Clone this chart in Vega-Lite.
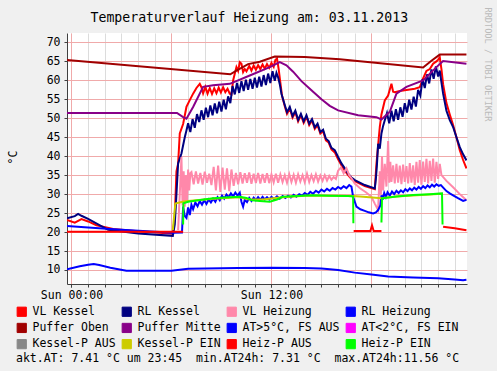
{
"$schema": "https://vega.github.io/schema/vega-lite/v6.json",
"width": 400, "height": 251,
"autosize": {"type": "none"},
"padding": {"left": 67, "top": 33, "right": 30, "bottom": 87},
"background": "#F0F0F0",
"config": {"font": "DejaVu Sans Mono", "view": {"stroke": null, "fill": "white"}},
"data": {"values": [
{"s":"VL Kessel","t":"2013-11-02T23:44","v":23.2},
{"s":"VL Kessel","t":"2013-11-03T00:12","v":22.5},
{"s":"VL Kessel","t":"2013-11-03T00:36","v":23.4},
{"s":"VL Kessel","t":"2013-11-03T01:00","v":22.8},
{"s":"VL Kessel","t":"2013-11-03T01:30","v":21.8},
{"s":"VL Kessel","t":"2013-11-03T02:30","v":20.8},
{"s":"VL Kessel","t":"2013-11-03T04:00","v":20.2},
{"s":"VL Kessel","t":"2013-11-03T06:05","v":19.6},
{"s":"VL Kessel","t":"2013-11-03T06:12","v":24},
{"s":"VL Kessel","t":"2013-11-03T06:18","v":36},
{"s":"VL Kessel","t":"2013-11-03T06:24","v":38},
{"s":"VL Kessel","t":"2013-11-03T06:30","v":46},
{"s":"VL Kessel","t":"2013-11-03T06:42","v":48.5},
{"s":"VL Kessel","t":"2013-11-03T06:54","v":53},
{"s":"VL Kessel","t":"2013-11-03T07:06","v":54.8},
{"s":"VL Kessel","t":"2013-11-03T07:18","v":56.5},
{"s":"VL Kessel","t":"2013-11-03T07:30","v":58},
{"s":"VL Kessel","t":"2013-11-03T07:42","v":59.1},
{"s":"VL Kessel","t":"2013-11-03T07:48","v":58.2},
{"s":"VL Kessel","t":"2013-11-03T07:54","v":56.6},
{"s":"VL Kessel","t":"2013-11-03T08:02","v":58.3},
{"s":"VL Kessel","t":"2013-11-03T08:10","v":56.5},
{"s":"VL Kessel","t":"2013-11-03T08:18","v":58.0},
{"s":"VL Kessel","t":"2013-11-03T08:26","v":56.4},
{"s":"VL Kessel","t":"2013-11-03T08:34","v":57.9},
{"s":"VL Kessel","t":"2013-11-03T08:42","v":56.6},
{"s":"VL Kessel","t":"2013-11-03T08:50","v":58.1},
{"s":"VL Kessel","t":"2013-11-03T08:58","v":56.8},
{"s":"VL Kessel","t":"2013-11-03T09:06","v":58.2},
{"s":"VL Kessel","t":"2013-11-03T09:14","v":56.9},
{"s":"VL Kessel","t":"2013-11-03T09:22","v":57.8},
{"s":"VL Kessel","t":"2013-11-03T09:30","v":56.5},
{"s":"VL Kessel","t":"2013-11-03T09:36","v":56.3},
{"s":"VL Kessel","t":"2013-11-03T09:42","v":60},
{"s":"VL Kessel","t":"2013-11-03T09:54","v":63.5},
{"s":"VL Kessel","t":"2013-11-03T10:00","v":62.5},
{"s":"VL Kessel","t":"2013-11-03T10:06","v":64.8},
{"s":"VL Kessel","t":"2013-11-03T10:12","v":64.4},
{"s":"VL Kessel","t":"2013-11-03T10:18","v":62.2},
{"s":"VL Kessel","t":"2013-11-03T10:24","v":63},
{"s":"VL Kessel","t":"2013-11-03T10:30","v":62.4},
{"s":"VL Kessel","t":"2013-11-03T10:40","v":63.8},
{"s":"VL Kessel","t":"2013-11-03T10:48","v":62.6},
{"s":"VL Kessel","t":"2013-11-03T10:56","v":63.9},
{"s":"VL Kessel","t":"2013-11-03T11:04","v":62.8},
{"s":"VL Kessel","t":"2013-11-03T11:12","v":64},
{"s":"VL Kessel","t":"2013-11-03T11:20","v":63.0},
{"s":"VL Kessel","t":"2013-11-03T11:28","v":64.2},
{"s":"VL Kessel","t":"2013-11-03T11:36","v":63.1},
{"s":"VL Kessel","t":"2013-11-03T11:44","v":64.3},
{"s":"VL Kessel","t":"2013-11-03T11:52","v":63.3},
{"s":"VL Kessel","t":"2013-11-03T12:00","v":64.6},
{"s":"VL Kessel","t":"2013-11-03T12:08","v":63.6},
{"s":"VL Kessel","t":"2013-11-03T12:14","v":65.4},
{"s":"VL Kessel","t":"2013-11-03T12:20","v":65.8},
{"s":"VL Kessel","t":"2013-11-03T12:26","v":63},
{"s":"VL Kessel","t":"2013-11-03T12:32","v":59.5},
{"s":"VL Kessel","t":"2013-11-03T12:38","v":56},
{"s":"VL Kessel","t":"2013-11-03T12:48","v":53.2},
{"s":"VL Kessel","t":"2013-11-03T12:56","v":51.2},
{"s":"VL Kessel","t":"2013-11-03T13:06","v":52.6},
{"s":"VL Kessel","t":"2013-11-03T13:16","v":50.2},
{"s":"VL Kessel","t":"2013-11-03T13:26","v":51.6},
{"s":"VL Kessel","t":"2013-11-03T13:36","v":49.2},
{"s":"VL Kessel","t":"2013-11-03T13:46","v":50.8},
{"s":"VL Kessel","t":"2013-11-03T13:56","v":48.8},
{"s":"VL Kessel","t":"2013-11-03T14:06","v":50.4},
{"s":"VL Kessel","t":"2013-11-03T14:16","v":48.2},
{"s":"VL Kessel","t":"2013-11-03T14:26","v":49.4},
{"s":"VL Kessel","t":"2013-11-03T14:36","v":47.2},
{"s":"VL Kessel","t":"2013-11-03T14:46","v":48.2},
{"s":"VL Kessel","t":"2013-11-03T14:56","v":46.0},
{"s":"VL Kessel","t":"2013-11-03T15:06","v":46.6},
{"s":"VL Kessel","t":"2013-11-03T15:16","v":44.2},
{"s":"VL Kessel","t":"2013-11-03T15:26","v":43.6},
{"s":"VL Kessel","t":"2013-11-03T15:36","v":41.8},
{"s":"VL Kessel","t":"2013-11-03T15:48","v":41.0},
{"s":"VL Kessel","t":"2013-11-03T16:00","v":39.2},
{"s":"VL Kessel","t":"2013-11-03T16:12","v":37.6},
{"s":"VL Kessel","t":"2013-11-03T16:24","v":36.2},
{"s":"VL Kessel","t":"2013-11-03T16:36","v":35.0},
{"s":"VL Kessel","t":"2013-11-03T16:48","v":34.0},
{"s":"VL Kessel","t":"2013-11-03T17:00","v":33.4},
{"s":"VL Kessel","t":"2013-11-03T17:36","v":32.1},
{"s":"VL Kessel","t":"2013-11-03T18:12","v":31.3},
{"s":"VL Kessel","t":"2013-11-03T18:18","v":38},
{"s":"VL Kessel","t":"2013-11-03T18:30","v":47.7},
{"s":"VL Kessel","t":"2013-11-03T18:36","v":51},
{"s":"VL Kessel","t":"2013-11-03T18:48","v":54.7},
{"s":"VL Kessel","t":"2013-11-03T19:00","v":56},
{"s":"VL Kessel","t":"2013-11-03T19:12","v":59.1},
{"s":"VL Kessel","t":"2013-11-03T19:18","v":57},
{"s":"VL Kessel","t":"2013-11-03T19:24","v":56.9},
{"s":"VL Kessel","t":"2013-11-03T19:42","v":57.2},
{"s":"VL Kessel","t":"2013-11-03T20:00","v":57.4},
{"s":"VL Kessel","t":"2013-11-03T20:18","v":57.6},
{"s":"VL Kessel","t":"2013-11-03T20:36","v":57.8},
{"s":"VL Kessel","t":"2013-11-03T20:54","v":58.2},
{"s":"VL Kessel","t":"2013-11-03T21:06","v":60.5},
{"s":"VL Kessel","t":"2013-11-03T21:18","v":62.5},
{"s":"VL Kessel","t":"2013-11-03T21:30","v":63},
{"s":"VL Kessel","t":"2013-11-03T21:42","v":64.4},
{"s":"VL Kessel","t":"2013-11-03T21:54","v":65.0},
{"s":"VL Kessel","t":"2013-11-03T22:00","v":65.5},
{"s":"VL Kessel","t":"2013-11-03T22:06","v":66.1},
{"s":"VL Kessel","t":"2013-11-03T22:12","v":63},
{"s":"VL Kessel","t":"2013-11-03T22:18","v":59},
{"s":"VL Kessel","t":"2013-11-03T22:30","v":54},
{"s":"VL Kessel","t":"2013-11-03T22:42","v":51},
{"s":"VL Kessel","t":"2013-11-03T22:54","v":48.2},
{"s":"VL Kessel","t":"2013-11-03T23:06","v":45},
{"s":"VL Kessel","t":"2013-11-03T23:18","v":41.6},
{"s":"VL Kessel","t":"2013-11-03T23:30","v":39},
{"s":"VL Kessel","t":"2013-11-03T23:42","v":36.8},
{"s":"RL Kessel","t":"2013-11-02T23:44","v":23.6},
{"s":"RL Kessel","t":"2013-11-03T00:12","v":24.2},
{"s":"RL Kessel","t":"2013-11-03T00:24","v":24.8},
{"s":"RL Kessel","t":"2013-11-03T00:36","v":24.3},
{"s":"RL Kessel","t":"2013-11-03T01:00","v":23.5},
{"s":"RL Kessel","t":"2013-11-03T02:12","v":20.6},
{"s":"RL Kessel","t":"2013-11-03T04:00","v":19.6},
{"s":"RL Kessel","t":"2013-11-03T06:05","v":19.0},
{"s":"RL Kessel","t":"2013-11-03T06:12","v":22},
{"s":"RL Kessel","t":"2013-11-03T06:18","v":30},
{"s":"RL Kessel","t":"2013-11-03T06:24","v":38.1},
{"s":"RL Kessel","t":"2013-11-03T06:36","v":40.7},
{"s":"RL Kessel","t":"2013-11-03T06:48","v":45},
{"s":"RL Kessel","t":"2013-11-03T06:54","v":46.8},
{"s":"RL Kessel","t":"2013-11-03T07:00","v":48.7},
{"s":"RL Kessel","t":"2013-11-03T07:08","v":46.4},
{"s":"RL Kessel","t":"2013-11-03T07:16","v":49.8},
{"s":"RL Kessel","t":"2013-11-03T07:24","v":47.5},
{"s":"RL Kessel","t":"2013-11-03T07:32","v":51.1},
{"s":"RL Kessel","t":"2013-11-03T07:40","v":49.0},
{"s":"RL Kessel","t":"2013-11-03T07:48","v":52.1},
{"s":"RL Kessel","t":"2013-11-03T07:56","v":49.6},
{"s":"RL Kessel","t":"2013-11-03T08:04","v":52.8},
{"s":"RL Kessel","t":"2013-11-03T08:12","v":50.3},
{"s":"RL Kessel","t":"2013-11-03T08:20","v":53.4},
{"s":"RL Kessel","t":"2013-11-03T08:28","v":50.8},
{"s":"RL Kessel","t":"2013-11-03T08:36","v":53.9},
{"s":"RL Kessel","t":"2013-11-03T08:44","v":51.3},
{"s":"RL Kessel","t":"2013-11-03T08:52","v":54.4},
{"s":"RL Kessel","t":"2013-11-03T09:00","v":51.8},
{"s":"RL Kessel","t":"2013-11-03T09:08","v":54.9},
{"s":"RL Kessel","t":"2013-11-03T09:16","v":52.4},
{"s":"RL Kessel","t":"2013-11-03T09:24","v":55.8},
{"s":"RL Kessel","t":"2013-11-03T09:32","v":54.0},
{"s":"RL Kessel","t":"2013-11-03T09:40","v":58.5},
{"s":"RL Kessel","t":"2013-11-03T09:48","v":56.3},
{"s":"RL Kessel","t":"2013-11-03T09:56","v":59.3},
{"s":"RL Kessel","t":"2013-11-03T10:04","v":56.7},
{"s":"RL Kessel","t":"2013-11-03T10:12","v":59.8},
{"s":"RL Kessel","t":"2013-11-03T10:20","v":57.2},
{"s":"RL Kessel","t":"2013-11-03T10:28","v":60.2},
{"s":"RL Kessel","t":"2013-11-03T10:36","v":57.5},
{"s":"RL Kessel","t":"2013-11-03T10:44","v":60.4},
{"s":"RL Kessel","t":"2013-11-03T10:52","v":57.8},
{"s":"RL Kessel","t":"2013-11-03T11:00","v":60.7},
{"s":"RL Kessel","t":"2013-11-03T11:08","v":58.1},
{"s":"RL Kessel","t":"2013-11-03T11:16","v":61.0},
{"s":"RL Kessel","t":"2013-11-03T11:24","v":58.4},
{"s":"RL Kessel","t":"2013-11-03T11:32","v":61.4},
{"s":"RL Kessel","t":"2013-11-03T11:40","v":58.8},
{"s":"RL Kessel","t":"2013-11-03T11:48","v":61.8},
{"s":"RL Kessel","t":"2013-11-03T11:56","v":59.3},
{"s":"RL Kessel","t":"2013-11-03T12:04","v":62.4},
{"s":"RL Kessel","t":"2013-11-03T12:12","v":59.9},
{"s":"RL Kessel","t":"2013-11-03T12:18","v":62.0},
{"s":"RL Kessel","t":"2013-11-03T12:24","v":60.8},
{"s":"RL Kessel","t":"2013-11-03T12:30","v":59},
{"s":"RL Kessel","t":"2013-11-03T12:36","v":56.5},
{"s":"RL Kessel","t":"2013-11-03T12:48","v":53.5},
{"s":"RL Kessel","t":"2013-11-03T12:56","v":51.6},
{"s":"RL Kessel","t":"2013-11-03T13:06","v":53.0},
{"s":"RL Kessel","t":"2013-11-03T13:16","v":50.6},
{"s":"RL Kessel","t":"2013-11-03T13:26","v":52.0},
{"s":"RL Kessel","t":"2013-11-03T13:36","v":49.6},
{"s":"RL Kessel","t":"2013-11-03T13:46","v":51.2},
{"s":"RL Kessel","t":"2013-11-03T13:56","v":49.2},
{"s":"RL Kessel","t":"2013-11-03T14:06","v":50.8},
{"s":"RL Kessel","t":"2013-11-03T14:16","v":48.6},
{"s":"RL Kessel","t":"2013-11-03T14:26","v":49.8},
{"s":"RL Kessel","t":"2013-11-03T14:36","v":47.6},
{"s":"RL Kessel","t":"2013-11-03T14:46","v":48.6},
{"s":"RL Kessel","t":"2013-11-03T14:56","v":46.4},
{"s":"RL Kessel","t":"2013-11-03T15:06","v":47.0},
{"s":"RL Kessel","t":"2013-11-03T15:16","v":44.6},
{"s":"RL Kessel","t":"2013-11-03T15:26","v":44.0},
{"s":"RL Kessel","t":"2013-11-03T15:36","v":42.2},
{"s":"RL Kessel","t":"2013-11-03T15:48","v":41.6},
{"s":"RL Kessel","t":"2013-11-03T16:00","v":39.8},
{"s":"RL Kessel","t":"2013-11-03T16:12","v":38.1},
{"s":"RL Kessel","t":"2013-11-03T16:24","v":36.8},
{"s":"RL Kessel","t":"2013-11-03T16:36","v":35.4},
{"s":"RL Kessel","t":"2013-11-03T16:48","v":34.4},
{"s":"RL Kessel","t":"2013-11-03T17:00","v":33.7},
{"s":"RL Kessel","t":"2013-11-03T17:36","v":32.4},
{"s":"RL Kessel","t":"2013-11-03T18:12","v":31.5},
{"s":"RL Kessel","t":"2013-11-03T18:16","v":34},
{"s":"RL Kessel","t":"2013-11-03T18:20","v":38},
{"s":"RL Kessel","t":"2013-11-03T18:24","v":43.3},
{"s":"RL Kessel","t":"2013-11-03T18:30","v":42},
{"s":"RL Kessel","t":"2013-11-03T18:36","v":46},
{"s":"RL Kessel","t":"2013-11-03T18:42","v":48},
{"s":"RL Kessel","t":"2013-11-03T18:48","v":49.5},
{"s":"RL Kessel","t":"2013-11-03T18:56","v":51.4},
{"s":"RL Kessel","t":"2013-11-03T19:04","v":48.7},
{"s":"RL Kessel","t":"2013-11-03T19:12","v":52.0},
{"s":"RL Kessel","t":"2013-11-03T19:20","v":49.2},
{"s":"RL Kessel","t":"2013-11-03T19:28","v":52.4},
{"s":"RL Kessel","t":"2013-11-03T19:36","v":49.6},
{"s":"RL Kessel","t":"2013-11-03T19:44","v":52.9},
{"s":"RL Kessel","t":"2013-11-03T19:52","v":50.4},
{"s":"RL Kessel","t":"2013-11-03T20:00","v":54.0},
{"s":"RL Kessel","t":"2013-11-03T20:08","v":51.5},
{"s":"RL Kessel","t":"2013-11-03T20:16","v":54.9},
{"s":"RL Kessel","t":"2013-11-03T20:24","v":52.3},
{"s":"RL Kessel","t":"2013-11-03T20:32","v":55.7},
{"s":"RL Kessel","t":"2013-11-03T20:40","v":53.1},
{"s":"RL Kessel","t":"2013-11-03T20:48","v":57.5},
{"s":"RL Kessel","t":"2013-11-03T20:56","v":56.0},
{"s":"RL Kessel","t":"2013-11-03T21:04","v":60.3},
{"s":"RL Kessel","t":"2013-11-03T21:12","v":58.0},
{"s":"RL Kessel","t":"2013-11-03T21:20","v":61.6},
{"s":"RL Kessel","t":"2013-11-03T21:28","v":59.2},
{"s":"RL Kessel","t":"2013-11-03T21:36","v":62.9},
{"s":"RL Kessel","t":"2013-11-03T21:44","v":60.4},
{"s":"RL Kessel","t":"2013-11-03T21:52","v":63.7},
{"s":"RL Kessel","t":"2013-11-03T22:00","v":61.0},
{"s":"RL Kessel","t":"2013-11-03T22:06","v":62.6},
{"s":"RL Kessel","t":"2013-11-03T22:12","v":59.5},
{"s":"RL Kessel","t":"2013-11-03T22:18","v":56.5},
{"s":"RL Kessel","t":"2013-11-03T22:30","v":52},
{"s":"RL Kessel","t":"2013-11-03T22:42","v":49.5},
{"s":"RL Kessel","t":"2013-11-03T22:54","v":47.7},
{"s":"RL Kessel","t":"2013-11-03T23:06","v":45},
{"s":"RL Kessel","t":"2013-11-03T23:18","v":42.4},
{"s":"RL Kessel","t":"2013-11-03T23:30","v":40.5},
{"s":"RL Kessel","t":"2013-11-03T23:42","v":38.9},
{"s":"VL Heizung","t":"2013-11-03T06:24","v":20.5},
{"s":"VL Heizung","t":"2013-11-03T06:30","v":30},
{"s":"VL Heizung","t":"2013-11-03T06:36","v":39.8},
{"s":"VL Heizung","t":"2013-11-03T06:40","v":27},
{"s":"VL Heizung","t":"2013-11-03T06:44","v":36},
{"s":"VL Heizung","t":"2013-11-03T06:48","v":26.7},
{"s":"VL Heizung","t":"2013-11-03T06:52","v":35},
{"s":"VL Heizung","t":"2013-11-03T06:56","v":28},
{"s":"VL Heizung","t":"2013-11-03T07:00","v":36.5},
{"s":"VL Heizung","t":"2013-11-03T07:04","v":31},
{"s":"VL Heizung","t":"2013-11-03T07:08","v":35.5},
{"s":"VL Heizung","t":"2013-11-03T07:12","v":35.8},
{"s":"VL Heizung","t":"2013-11-03T07:20","v":32.6},
{"s":"VL Heizung","t":"2013-11-03T07:28","v":36.0},
{"s":"VL Heizung","t":"2013-11-03T07:36","v":32.8},
{"s":"VL Heizung","t":"2013-11-03T07:44","v":35.6},
{"s":"VL Heizung","t":"2013-11-03T07:52","v":32.5},
{"s":"VL Heizung","t":"2013-11-03T08:00","v":35.9},
{"s":"VL Heizung","t":"2013-11-03T08:08","v":33.0},
{"s":"VL Heizung","t":"2013-11-03T08:16","v":35.4},
{"s":"VL Heizung","t":"2013-11-03T08:24","v":32.4},
{"s":"VL Heizung","t":"2013-11-03T08:32","v":37.2},
{"s":"VL Heizung","t":"2013-11-03T08:40","v":31.0},
{"s":"VL Heizung","t":"2013-11-03T08:48","v":37.5},
{"s":"VL Heizung","t":"2013-11-03T08:56","v":30.6},
{"s":"VL Heizung","t":"2013-11-03T09:04","v":37.0},
{"s":"VL Heizung","t":"2013-11-03T09:12","v":31.2},
{"s":"VL Heizung","t":"2013-11-03T09:20","v":36.8},
{"s":"VL Heizung","t":"2013-11-03T09:28","v":30.8},
{"s":"VL Heizung","t":"2013-11-03T09:36","v":36.5},
{"s":"VL Heizung","t":"2013-11-03T09:44","v":32.2},
{"s":"VL Heizung","t":"2013-11-03T09:52","v":35.6},
{"s":"VL Heizung","t":"2013-11-03T10:00","v":32.6},
{"s":"VL Heizung","t":"2013-11-03T10:08","v":35.8},
{"s":"VL Heizung","t":"2013-11-03T10:16","v":32.8},
{"s":"VL Heizung","t":"2013-11-03T10:24","v":35.5},
{"s":"VL Heizung","t":"2013-11-03T10:32","v":33.0},
{"s":"VL Heizung","t":"2013-11-03T10:40","v":35.7},
{"s":"VL Heizung","t":"2013-11-03T10:48","v":32.7},
{"s":"VL Heizung","t":"2013-11-03T10:56","v":35.4},
{"s":"VL Heizung","t":"2013-11-03T11:04","v":32.9},
{"s":"VL Heizung","t":"2013-11-03T11:12","v":35.6},
{"s":"VL Heizung","t":"2013-11-03T11:20","v":32.8},
{"s":"VL Heizung","t":"2013-11-03T11:28","v":35.3},
{"s":"VL Heizung","t":"2013-11-03T11:36","v":33.0},
{"s":"VL Heizung","t":"2013-11-03T11:44","v":35.5},
{"s":"VL Heizung","t":"2013-11-03T11:52","v":32.9},
{"s":"VL Heizung","t":"2013-11-03T12:00","v":35.2},
{"s":"VL Heizung","t":"2013-11-03T12:08","v":33.1},
{"s":"VL Heizung","t":"2013-11-03T12:16","v":35.4},
{"s":"VL Heizung","t":"2013-11-03T12:24","v":33.0},
{"s":"VL Heizung","t":"2013-11-03T12:32","v":35.2},
{"s":"VL Heizung","t":"2013-11-03T12:40","v":33.2},
{"s":"VL Heizung","t":"2013-11-03T12:48","v":35.0},
{"s":"VL Heizung","t":"2013-11-03T12:56","v":33.0},
{"s":"VL Heizung","t":"2013-11-03T13:04","v":35.3},
{"s":"VL Heizung","t":"2013-11-03T13:12","v":33.2},
{"s":"VL Heizung","t":"2013-11-03T13:20","v":35.1},
{"s":"VL Heizung","t":"2013-11-03T13:28","v":33.0},
{"s":"VL Heizung","t":"2013-11-03T13:36","v":35.2},
{"s":"VL Heizung","t":"2013-11-03T13:44","v":33.3},
{"s":"VL Heizung","t":"2013-11-03T13:52","v":35.0},
{"s":"VL Heizung","t":"2013-11-03T14:00","v":33.1},
{"s":"VL Heizung","t":"2013-11-03T14:08","v":35.4},
{"s":"VL Heizung","t":"2013-11-03T14:16","v":33.2},
{"s":"VL Heizung","t":"2013-11-03T14:24","v":35.0},
{"s":"VL Heizung","t":"2013-11-03T14:32","v":33.4},
{"s":"VL Heizung","t":"2013-11-03T14:40","v":35.2},
{"s":"VL Heizung","t":"2013-11-03T14:48","v":33.3},
{"s":"VL Heizung","t":"2013-11-03T14:56","v":34.9},
{"s":"VL Heizung","t":"2013-11-03T15:04","v":33.5},
{"s":"VL Heizung","t":"2013-11-03T15:12","v":35.0},
{"s":"VL Heizung","t":"2013-11-03T15:20","v":33.6},
{"s":"VL Heizung","t":"2013-11-03T15:28","v":34.8},
{"s":"VL Heizung","t":"2013-11-03T15:36","v":33.8},
{"s":"VL Heizung","t":"2013-11-03T15:44","v":34.5},
{"s":"VL Heizung","t":"2013-11-03T15:52","v":34.0},
{"s":"VL Heizung","t":"2013-11-03T16:00","v":36.2},
{"s":"VL Heizung","t":"2013-11-03T16:10","v":37.0},
{"s":"VL Heizung","t":"2013-11-03T16:20","v":35.5},
{"s":"VL Heizung","t":"2013-11-03T16:30","v":36.8},
{"s":"VL Heizung","t":"2013-11-03T16:40","v":35.0},
{"s":"VL Heizung","t":"2013-11-03T16:50","v":34.0},
{"s":"VL Heizung","t":"2013-11-03T17:00","v":32.8},
{"s":"VL Heizung","t":"2013-11-03T17:20","v":31.5},
{"s":"VL Heizung","t":"2013-11-03T17:40","v":30.5},
{"s":"VL Heizung","t":"2013-11-03T18:00","v":29.3},
{"s":"VL Heizung","t":"2013-11-03T18:12","v":27.5},
{"s":"VL Heizung","t":"2013-11-03T18:24","v":25.8},
{"s":"VL Heizung","t":"2013-11-03T18:30","v":36},
{"s":"VL Heizung","t":"2013-11-03T18:34","v":30},
{"s":"VL Heizung","t":"2013-11-03T18:38","v":40},
{"s":"VL Heizung","t":"2013-11-03T18:42","v":31},
{"s":"VL Heizung","t":"2013-11-03T18:48","v":38},
{"s":"VL Heizung","t":"2013-11-03T18:54","v":32},
{"s":"VL Heizung","t":"2013-11-03T19:00","v":44},
{"s":"VL Heizung","t":"2013-11-03T19:04","v":33},
{"s":"VL Heizung","t":"2013-11-03T19:08","v":38.5},
{"s":"VL Heizung","t":"2013-11-03T19:12","v":33.2},
{"s":"VL Heizung","t":"2013-11-03T19:18","v":37.6},
{"s":"VL Heizung","t":"2013-11-03T19:24","v":32.8},
{"s":"VL Heizung","t":"2013-11-03T19:30","v":38.0},
{"s":"VL Heizung","t":"2013-11-03T19:36","v":33.0},
{"s":"VL Heizung","t":"2013-11-03T19:42","v":37.5},
{"s":"VL Heizung","t":"2013-11-03T19:48","v":32.6},
{"s":"VL Heizung","t":"2013-11-03T19:54","v":37.8},
{"s":"VL Heizung","t":"2013-11-03T20:00","v":33.2},
{"s":"VL Heizung","t":"2013-11-03T20:06","v":37.4},
{"s":"VL Heizung","t":"2013-11-03T20:12","v":32.8},
{"s":"VL Heizung","t":"2013-11-03T20:18","v":38.2},
{"s":"VL Heizung","t":"2013-11-03T20:24","v":33.0},
{"s":"VL Heizung","t":"2013-11-03T20:30","v":37.6},
{"s":"VL Heizung","t":"2013-11-03T20:36","v":32.4},
{"s":"VL Heizung","t":"2013-11-03T20:42","v":38.5},
{"s":"VL Heizung","t":"2013-11-03T20:48","v":33.0},
{"s":"VL Heizung","t":"2013-11-03T20:54","v":39.0},
{"s":"VL Heizung","t":"2013-11-03T21:00","v":32.5},
{"s":"VL Heizung","t":"2013-11-03T21:06","v":38.6},
{"s":"VL Heizung","t":"2013-11-03T21:12","v":33.2},
{"s":"VL Heizung","t":"2013-11-03T21:18","v":39.3},
{"s":"VL Heizung","t":"2013-11-03T21:24","v":32.8},
{"s":"VL Heizung","t":"2013-11-03T21:30","v":38.8},
{"s":"VL Heizung","t":"2013-11-03T21:36","v":33.5},
{"s":"VL Heizung","t":"2013-11-03T21:42","v":39.4},
{"s":"VL Heizung","t":"2013-11-03T21:48","v":33.0},
{"s":"VL Heizung","t":"2013-11-03T21:54","v":38.5},
{"s":"VL Heizung","t":"2013-11-03T22:00","v":34.0},
{"s":"VL Heizung","t":"2013-11-03T22:06","v":38.0},
{"s":"VL Heizung","t":"2013-11-03T22:12","v":35.0},
{"s":"VL Heizung","t":"2013-11-03T22:30","v":33.5},
{"s":"VL Heizung","t":"2013-11-03T22:54","v":31.8},
{"s":"VL Heizung","t":"2013-11-03T23:18","v":30.0},
{"s":"VL Heizung","t":"2013-11-03T23:42","v":28.4},
{"s":"RL Heizung","t":"2013-11-02T23:44","v":21.6},
{"s":"RL Heizung","t":"2013-11-03T01:00","v":21.2},
{"s":"RL Heizung","t":"2013-11-03T03:00","v":20.6},
{"s":"RL Heizung","t":"2013-11-03T06:05","v":19.8},
{"s":"RL Heizung","t":"2013-11-03T06:38","v":19.9},
{"s":"RL Heizung","t":"2013-11-03T06:42","v":26.7},
{"s":"RL Heizung","t":"2013-11-03T06:48","v":24.2},
{"s":"RL Heizung","t":"2013-11-03T06:54","v":23.7},
{"s":"RL Heizung","t":"2013-11-03T07:00","v":26.5},
{"s":"RL Heizung","t":"2013-11-03T07:06","v":24.5},
{"s":"RL Heizung","t":"2013-11-03T07:12","v":27.2},
{"s":"RL Heizung","t":"2013-11-03T07:18","v":26.0},
{"s":"RL Heizung","t":"2013-11-03T07:26","v":27.8},
{"s":"RL Heizung","t":"2013-11-03T07:34","v":26.8},
{"s":"RL Heizung","t":"2013-11-03T07:42","v":28.2},
{"s":"RL Heizung","t":"2013-11-03T07:50","v":27.2},
{"s":"RL Heizung","t":"2013-11-03T07:58","v":28.4},
{"s":"RL Heizung","t":"2013-11-03T08:06","v":27.4},
{"s":"RL Heizung","t":"2013-11-03T08:14","v":28.6},
{"s":"RL Heizung","t":"2013-11-03T08:22","v":27.8},
{"s":"RL Heizung","t":"2013-11-03T08:30","v":28.8},
{"s":"RL Heizung","t":"2013-11-03T08:38","v":28.0},
{"s":"RL Heizung","t":"2013-11-03T08:46","v":29.2},
{"s":"RL Heizung","t":"2013-11-03T08:54","v":28.4},
{"s":"RL Heizung","t":"2013-11-03T09:02","v":29.6},
{"s":"RL Heizung","t":"2013-11-03T09:10","v":28.8},
{"s":"RL Heizung","t":"2013-11-03T09:18","v":29.9},
{"s":"RL Heizung","t":"2013-11-03T09:26","v":29.2},
{"s":"RL Heizung","t":"2013-11-03T09:34","v":30.2},
{"s":"RL Heizung","t":"2013-11-03T09:42","v":29.4},
{"s":"RL Heizung","t":"2013-11-03T09:50","v":30.4},
{"s":"RL Heizung","t":"2013-11-03T09:58","v":29.6},
{"s":"RL Heizung","t":"2013-11-03T10:06","v":30.4},
{"s":"RL Heizung","t":"2013-11-03T10:12","v":28.0},
{"s":"RL Heizung","t":"2013-11-03T10:18","v":26.7},
{"s":"RL Heizung","t":"2013-11-03T10:24","v":28.5},
{"s":"RL Heizung","t":"2013-11-03T10:32","v":27.9},
{"s":"RL Heizung","t":"2013-11-03T10:40","v":29.0},
{"s":"RL Heizung","t":"2013-11-03T10:48","v":28.2},
{"s":"RL Heizung","t":"2013-11-03T10:56","v":29.1},
{"s":"RL Heizung","t":"2013-11-03T11:04","v":28.4},
{"s":"RL Heizung","t":"2013-11-03T11:12","v":29.2},
{"s":"RL Heizung","t":"2013-11-03T11:20","v":28.5},
{"s":"RL Heizung","t":"2013-11-03T11:28","v":29.3},
{"s":"RL Heizung","t":"2013-11-03T11:36","v":28.6},
{"s":"RL Heizung","t":"2013-11-03T11:44","v":29.2},
{"s":"RL Heizung","t":"2013-11-03T11:52","v":28.6},
{"s":"RL Heizung","t":"2013-11-03T12:00","v":29.3},
{"s":"RL Heizung","t":"2013-11-03T12:10","v":28.7},
{"s":"RL Heizung","t":"2013-11-03T12:20","v":29.4},
{"s":"RL Heizung","t":"2013-11-03T12:30","v":28.8},
{"s":"RL Heizung","t":"2013-11-03T12:40","v":29.5},
{"s":"RL Heizung","t":"2013-11-03T12:50","v":29.0},
{"s":"RL Heizung","t":"2013-11-03T13:00","v":29.6},
{"s":"RL Heizung","t":"2013-11-03T13:10","v":29.1},
{"s":"RL Heizung","t":"2013-11-03T13:20","v":29.8},
{"s":"RL Heizung","t":"2013-11-03T13:30","v":29.3},
{"s":"RL Heizung","t":"2013-11-03T13:40","v":30.0},
{"s":"RL Heizung","t":"2013-11-03T13:50","v":29.6},
{"s":"RL Heizung","t":"2013-11-03T14:00","v":30.3},
{"s":"RL Heizung","t":"2013-11-03T14:10","v":29.8},
{"s":"RL Heizung","t":"2013-11-03T14:20","v":30.6},
{"s":"RL Heizung","t":"2013-11-03T14:30","v":30.1},
{"s":"RL Heizung","t":"2013-11-03T14:40","v":30.9},
{"s":"RL Heizung","t":"2013-11-03T14:50","v":30.4},
{"s":"RL Heizung","t":"2013-11-03T15:00","v":31.2},
{"s":"RL Heizung","t":"2013-11-03T15:10","v":30.7},
{"s":"RL Heizung","t":"2013-11-03T15:20","v":31.4},
{"s":"RL Heizung","t":"2013-11-03T15:30","v":30.9},
{"s":"RL Heizung","t":"2013-11-03T15:40","v":31.6},
{"s":"RL Heizung","t":"2013-11-03T15:50","v":31.2},
{"s":"RL Heizung","t":"2013-11-03T16:00","v":31.9},
{"s":"RL Heizung","t":"2013-11-03T16:10","v":31.4},
{"s":"RL Heizung","t":"2013-11-03T16:20","v":32.1},
{"s":"RL Heizung","t":"2013-11-03T16:30","v":31.6},
{"s":"RL Heizung","t":"2013-11-03T16:40","v":32.4},
{"s":"RL Heizung","t":"2013-11-03T16:48","v":32.0},
{"s":"RL Heizung","t":"2013-11-03T16:54","v":29.3},
{"s":"RL Heizung","t":"2013-11-03T17:06","v":26.7},
{"s":"RL Heizung","t":"2013-11-03T17:20","v":26.0},
{"s":"RL Heizung","t":"2013-11-03T17:36","v":25.6},
{"s":"RL Heizung","t":"2013-11-03T17:50","v":25.2},
{"s":"RL Heizung","t":"2013-11-03T18:06","v":24.9},
{"s":"RL Heizung","t":"2013-11-03T18:16","v":25.2},
{"s":"RL Heizung","t":"2013-11-03T18:24","v":25.8},
{"s":"RL Heizung","t":"2013-11-03T18:32","v":27},
{"s":"RL Heizung","t":"2013-11-03T18:36","v":29.7},
{"s":"RL Heizung","t":"2013-11-03T18:40","v":28.5},
{"s":"RL Heizung","t":"2013-11-03T18:46","v":30.3},
{"s":"RL Heizung","t":"2013-11-03T18:52","v":29.2},
{"s":"RL Heizung","t":"2013-11-03T18:58","v":30.5},
{"s":"RL Heizung","t":"2013-11-03T19:06","v":29.6},
{"s":"RL Heizung","t":"2013-11-03T19:14","v":30.7},
{"s":"RL Heizung","t":"2013-11-03T19:22","v":30.0},
{"s":"RL Heizung","t":"2013-11-03T19:30","v":30.9},
{"s":"RL Heizung","t":"2013-11-03T19:38","v":30.3},
{"s":"RL Heizung","t":"2013-11-03T19:46","v":31.0},
{"s":"RL Heizung","t":"2013-11-03T19:54","v":30.5},
{"s":"RL Heizung","t":"2013-11-03T20:02","v":31.3},
{"s":"RL Heizung","t":"2013-11-03T20:10","v":30.8},
{"s":"RL Heizung","t":"2013-11-03T20:18","v":31.5},
{"s":"RL Heizung","t":"2013-11-03T20:26","v":31.0},
{"s":"RL Heizung","t":"2013-11-03T20:34","v":31.7},
{"s":"RL Heizung","t":"2013-11-03T20:42","v":31.2},
{"s":"RL Heizung","t":"2013-11-03T20:50","v":31.9},
{"s":"RL Heizung","t":"2013-11-03T20:58","v":31.4},
{"s":"RL Heizung","t":"2013-11-03T21:06","v":32.1},
{"s":"RL Heizung","t":"2013-11-03T21:14","v":31.6},
{"s":"RL Heizung","t":"2013-11-03T21:22","v":32.3},
{"s":"RL Heizung","t":"2013-11-03T21:30","v":31.8},
{"s":"RL Heizung","t":"2013-11-03T21:38","v":32.5},
{"s":"RL Heizung","t":"2013-11-03T21:46","v":32.0},
{"s":"RL Heizung","t":"2013-11-03T21:54","v":32.6},
{"s":"RL Heizung","t":"2013-11-03T22:02","v":32.2},
{"s":"RL Heizung","t":"2013-11-03T22:10","v":32.4},
{"s":"RL Heizung","t":"2013-11-03T22:20","v":31.6},
{"s":"RL Heizung","t":"2013-11-03T22:30","v":30.8},
{"s":"RL Heizung","t":"2013-11-03T22:42","v":30.2},
{"s":"RL Heizung","t":"2013-11-03T22:54","v":29.7},
{"s":"RL Heizung","t":"2013-11-03T23:10","v":29.0},
{"s":"RL Heizung","t":"2013-11-03T23:30","v":28.2},
{"s":"RL Heizung","t":"2013-11-03T23:42","v":28.5},
{"s":"Puffer Oben","t":"2013-11-02T23:44","v":65.4},
{"s":"Puffer Oben","t":"2013-11-03T09:32","v":61.6},
{"s":"Puffer Oben","t":"2013-11-03T09:54","v":62.6},
{"s":"Puffer Oben","t":"2013-11-03T10:36","v":64.3},
{"s":"Puffer Oben","t":"2013-11-03T11:18","v":64.9},
{"s":"Puffer Oben","t":"2013-11-03T12:12","v":66.3},
{"s":"Puffer Oben","t":"2013-11-03T14:00","v":66.2},
{"s":"Puffer Oben","t":"2013-11-03T16:06","v":65.6},
{"s":"Puffer Oben","t":"2013-11-03T21:06","v":63.4},
{"s":"Puffer Oben","t":"2013-11-03T21:36","v":65.2},
{"s":"Puffer Oben","t":"2013-11-03T22:06","v":66.8},
{"s":"Puffer Oben","t":"2013-11-03T23:42","v":66.8},
{"s":"Puffer Mitte","t":"2013-11-02T23:44","v":51.4},
{"s":"Puffer Mitte","t":"2013-11-03T06:20","v":51.4},
{"s":"Puffer Mitte","t":"2013-11-03T06:42","v":50.3},
{"s":"Puffer Mitte","t":"2013-11-03T06:54","v":49.9},
{"s":"Puffer Mitte","t":"2013-11-03T07:18","v":53},
{"s":"Puffer Mitte","t":"2013-11-03T07:54","v":58.3},
{"s":"Puffer Mitte","t":"2013-11-03T08:30","v":58.7},
{"s":"Puffer Mitte","t":"2013-11-03T09:30","v":59.1},
{"s":"Puffer Mitte","t":"2013-11-03T10:42","v":61.3},
{"s":"Puffer Mitte","t":"2013-11-03T11:54","v":63.5},
{"s":"Puffer Mitte","t":"2013-11-03T12:30","v":64.8},
{"s":"Puffer Mitte","t":"2013-11-03T12:54","v":64.0},
{"s":"Puffer Mitte","t":"2013-11-03T13:18","v":62.3},
{"s":"Puffer Mitte","t":"2013-11-03T13:48","v":59.8},
{"s":"Puffer Mitte","t":"2013-11-03T14:24","v":57.4},
{"s":"Puffer Mitte","t":"2013-11-03T15:00","v":55.0},
{"s":"Puffer Mitte","t":"2013-11-03T15:30","v":53.3},
{"s":"Puffer Mitte","t":"2013-11-03T16:00","v":52.1},
{"s":"Puffer Mitte","t":"2013-11-03T17:12","v":50.8},
{"s":"Puffer Mitte","t":"2013-11-03T18:18","v":50.3},
{"s":"Puffer Mitte","t":"2013-11-03T18:36","v":49.7},
{"s":"Puffer Mitte","t":"2013-11-03T19:06","v":51.7},
{"s":"Puffer Mitte","t":"2013-11-03T19:30","v":56.5},
{"s":"Puffer Mitte","t":"2013-11-03T20:06","v":58.3},
{"s":"Puffer Mitte","t":"2013-11-03T21:06","v":60},
{"s":"Puffer Mitte","t":"2013-11-03T21:54","v":63.5},
{"s":"Puffer Mitte","t":"2013-11-03T22:18","v":65.1},
{"s":"Puffer Mitte","t":"2013-11-03T23:42","v":64.4},
{"s":"Kessel-P EIN","t":"2013-11-03T06:05","v":20.5},
{"s":"Kessel-P EIN","t":"2013-11-03T06:14","v":27.5},
{"s":"Kessel-P EIN","t":"2013-11-03T06:40","v":28.0},
{"s":"Kessel-P EIN","t":"2013-11-03T07:00","v":28.2},
{"s":"Kessel-P EIN","t":"2013-11-03T08:30","v":28.8},
{"s":"Kessel-P EIN","t":"2013-11-03T10:06","v":29.2},
{"s":"Kessel-P EIN","t":"2013-11-03T10:40","v":28.6},
{"s":"Kessel-P EIN","t":"2013-11-03T11:30","v":28.6},
{"s":"Kessel-P EIN","t":"2013-11-03T12:30","v":29.1},
{"s":"Kessel-P EIN","t":"2013-11-03T14:00","v":29.6},
{"s":"Kessel-P EIN","t":"2013-11-03T15:30","v":29.6},
{"s":"Kessel-P EIN","t":"2013-11-03T16:54","v":29.5},
{"s":"Kessel-P EIN","t":"2013-11-03T17:30","v":29.3},
{"s":"Kessel-P EIN","t":"2013-11-03T18:36","v":28.9},
{"s":"Kessel-P EIN","t":"2013-11-03T19:30","v":29.4},
{"s":"Kessel-P EIN","t":"2013-11-03T21:00","v":29.8},
{"s":"Kessel-P EIN","t":"2013-11-03T22:14","v":30.1},
{"s":"AT>5°C, FS AUS","t":"2013-11-02T23:44","v":10.2},
{"s":"AT>5°C, FS AUS","t":"2013-11-03T00:30","v":11.0},
{"s":"AT>5°C, FS AUS","t":"2013-11-03T01:00","v":11.4},
{"s":"AT>5°C, FS AUS","t":"2013-11-03T01:20","v":11.56},
{"s":"AT>5°C, FS AUS","t":"2013-11-03T01:40","v":11.3},
{"s":"AT>5°C, FS AUS","t":"2013-11-03T02:20","v":10.6},
{"s":"AT>5°C, FS AUS","t":"2013-11-03T03:18","v":9.8},
{"s":"AT>5°C, FS AUS","t":"2013-11-03T06:00","v":9.8},
{"s":"AT>5°C, FS AUS","t":"2013-11-03T07:00","v":10.3},
{"s":"AT>5°C, FS AUS","t":"2013-11-03T08:00","v":10.4},
{"s":"AT>5°C, FS AUS","t":"2013-11-03T10:00","v":10.5},
{"s":"AT>5°C, FS AUS","t":"2013-11-03T12:00","v":10.6},
{"s":"AT>5°C, FS AUS","t":"2013-11-03T14:00","v":10.5},
{"s":"AT>5°C, FS AUS","t":"2013-11-03T15:00","v":10.4},
{"s":"AT>5°C, FS AUS","t":"2013-11-03T16:00","v":10.0},
{"s":"AT>5°C, FS AUS","t":"2013-11-03T17:00","v":9.3},
{"s":"AT>5°C, FS AUS","t":"2013-11-03T18:00","v":8.8},
{"s":"AT>5°C, FS AUS","t":"2013-11-03T19:00","v":8.3},
{"s":"AT>5°C, FS AUS","t":"2013-11-03T20:30","v":8.0},
{"s":"AT>5°C, FS AUS","t":"2013-11-03T22:00","v":7.8},
{"s":"AT>5°C, FS AUS","t":"2013-11-03T23:00","v":7.5},
{"s":"AT>5°C, FS AUS","t":"2013-11-03T23:30","v":7.31},
{"s":"AT>5°C, FS AUS","t":"2013-11-03T23:42","v":7.41},
{"s":"Heiz-P AUS","t":"2013-11-02T23:44","v":20.1},
{"s":"Heiz-P AUS","t":"2013-11-03T06:42","v":20.1},
{"s":"Heiz-P AUS","t":"2013-11-03T06:44","v":null},
{"s":"Heiz-P AUS","t":"2013-11-03T16:56","v":20.3},
{"s":"Heiz-P AUS","t":"2013-11-03T17:56","v":20.3},
{"s":"Heiz-P AUS","t":"2013-11-03T18:02","v":21.8},
{"s":"Heiz-P AUS","t":"2013-11-03T18:08","v":20.3},
{"s":"Heiz-P AUS","t":"2013-11-03T18:36","v":20.3},
{"s":"Heiz-P AUS","t":"2013-11-03T18:38","v":null},
{"s":"Heiz-P AUS","t":"2013-11-03T22:18","v":21.4},
{"s":"Heiz-P AUS","t":"2013-11-03T23:00","v":21.0},
{"s":"Heiz-P AUS","t":"2013-11-03T23:42","v":20.5},
{"s":"Heiz-P EIN","t":"2013-11-03T06:42","v":22.0},
{"s":"Heiz-P EIN","t":"2013-11-03T06:43","v":27.6},
{"s":"Heiz-P EIN","t":"2013-11-03T07:00","v":28.0},
{"s":"Heiz-P EIN","t":"2013-11-03T07:30","v":28.3},
{"s":"Heiz-P EIN","t":"2013-11-03T08:30","v":28.9},
{"s":"Heiz-P EIN","t":"2013-11-03T09:30","v":29.2},
{"s":"Heiz-P EIN","t":"2013-11-03T10:06","v":29.3},
{"s":"Heiz-P EIN","t":"2013-11-03T10:30","v":29.0},
{"s":"Heiz-P EIN","t":"2013-11-03T10:50","v":28.4},
{"s":"Heiz-P EIN","t":"2013-11-03T11:18","v":28.2},
{"s":"Heiz-P EIN","t":"2013-11-03T11:54","v":28.0},
{"s":"Heiz-P EIN","t":"2013-11-03T12:20","v":28.6},
{"s":"Heiz-P EIN","t":"2013-11-03T12:40","v":29.3},
{"s":"Heiz-P EIN","t":"2013-11-03T13:30","v":29.5},
{"s":"Heiz-P EIN","t":"2013-11-03T14:30","v":29.7},
{"s":"Heiz-P EIN","t":"2013-11-03T15:30","v":29.6},
{"s":"Heiz-P EIN","t":"2013-11-03T16:36","v":29.5},
{"s":"Heiz-P EIN","t":"2013-11-03T16:54","v":29.4},
{"s":"Heiz-P EIN","t":"2013-11-03T16:55","v":22.3},
{"s":"Heiz-P EIN","t":"2013-11-03T17:30","v":null},
{"s":"Heiz-P EIN","t":"2013-11-03T18:36","v":22.5},
{"s":"Heiz-P EIN","t":"2013-11-03T18:38","v":28.9},
{"s":"Heiz-P EIN","t":"2013-11-03T19:30","v":29.4},
{"s":"Heiz-P EIN","t":"2013-11-03T20:30","v":29.8},
{"s":"Heiz-P EIN","t":"2013-11-03T21:30","v":30.0},
{"s":"Heiz-P EIN","t":"2013-11-03T22:14","v":30.2},
{"s":"Heiz-P EIN","t":"2013-11-03T22:16","v":22.0}
]},
"encoding": {
"color": {"field": "s", "type": "nominal",
 "scale": {"domain": ["VL Kessel", "RL Kessel", "VL Heizung", "RL Heizung", "Puffer Oben", "Puffer Mitte", "AT>5°C, FS AUS", "AT<2°C, FS EIN", "Kessel-P AUS", "Kessel-P EIN", "Heiz-P AUS", "Heiz-P EIN"],
  "range": ["#FF0000", "#000080", "#FF88AA", "#0000FF", "#A00000", "#880088", "#0000FF", "#FF00FF", "#888888", "#CCCC00", "#FF0000", "#00FF00"]},
 "legend": {"orient": "none", "legendX": -51, "legendY": 273, "direction": "horizontal", "columns": 4, "gridAlign": "none",
  "padding": 0, "columnPadding": 4, "rowPadding": 2.2,
  "symbolType": "square", "symbolSize": 85, "symbolStrokeWidth": 1, "symbolStrokeColor": "black",
  "labelFont": "DejaVu Sans Mono", "labelFontSize": 11.5, "labelColor": "black", "labelOffset": 5, "labelLimit": 300,
  "labelExpr": "pad(datum.label, indexof(['VL Kessel','Puffer Oben'], datum.label) >= 0 ? 13 : indexof(['RL Kessel','Puffer Mitte'], datum.label) >= 0 ? 14 : indexof(['VL Heizung','AT>5°C, FS AUS'], datum.label) >= 0 ? 16 : indexof(['Kessel-P AUS','Kessel-P EIN'], datum.label) >= 0 ? 15 : datum.label == 'Heiz-P AUS' ? 12 : 0)",
  "title": "akt.AT: 7.41 °C um 23:45\u00a0\u00a0min.AT24h: 7.31 °C\u00a0\u00a0max.AT24h:11.56 °C",
  "titleOrient": "bottom", "titleAnchor": "start", "titleFont": "DejaVu Sans Mono", "titleFontSize": 11.5, "titleFontWeight": "normal", "titleColor": "black", "titlePadding": 2, "titleLimit": 600,
  "encode": {"symbols": {"update": {"fill": {"scale": "color", "field": "value"}, "stroke": {"value": "black"}, "strokeWidth": {"value": 1}, "opacity": {"value": 1}}}}}}
},
"layer": [
{
"transform": [{"filter": "datum.s !== 'AT>5°C, FS AUS' && datum.s !== 'Heiz-P AUS' && datum.s !== 'Heiz-P EIN'"}],
"mark": {"type": "line", "strokeWidth": 2, "clip": true},
"encoding": {
"x": {"field": "t", "type": "temporal",
 "scale": {"domain": [{"year": 2013, "month": 11, "date": 2, "hours": 23, "minutes": 44}, {"year": 2013, "month": 11, "date": 3, "hours": 23, "minutes": 44}]},
 "axis": {"title": null, "labels": false,
  "values": [{"year": 2013, "month": 11, "date": 3, "hours": 0}, {"year": 2013, "month": 11, "date": 3, "hours": 1}, {"year": 2013, "month": 11, "date": 3, "hours": 2}, {"year": 2013, "month": 11, "date": 3, "hours": 3}, {"year": 2013, "month": 11, "date": 3, "hours": 4}, {"year": 2013, "month": 11, "date": 3, "hours": 5}, {"year": 2013, "month": 11, "date": 3, "hours": 6}, {"year": 2013, "month": 11, "date": 3, "hours": 7}, {"year": 2013, "month": 11, "date": 3, "hours": 8}, {"year": 2013, "month": 11, "date": 3, "hours": 9}, {"year": 2013, "month": 11, "date": 3, "hours": 10}, {"year": 2013, "month": 11, "date": 3, "hours": 11}, {"year": 2013, "month": 11, "date": 3, "hours": 12}, {"year": 2013, "month": 11, "date": 3, "hours": 13}, {"year": 2013, "month": 11, "date": 3, "hours": 14}, {"year": 2013, "month": 11, "date": 3, "hours": 15}, {"year": 2013, "month": 11, "date": 3, "hours": 16}, {"year": 2013, "month": 11, "date": 3, "hours": 17}, {"year": 2013, "month": 11, "date": 3, "hours": 18}, {"year": 2013, "month": 11, "date": 3, "hours": 19}, {"year": 2013, "month": 11, "date": 3, "hours": 20}, {"year": 2013, "month": 11, "date": 3, "hours": 21}, {"year": 2013, "month": 11, "date": 3, "hours": 22}, {"year": 2013, "month": 11, "date": 3, "hours": 23}],
  "tickSize": 3, "tickColor": "#404040", "domainColor": "#404040",
  "grid": true, "gridColor": "#DCDCDC", "gridOpacity": 1}},
"y": {"field": "v", "type": "quantitative",
 "scale": {"domain": [6.3, 72.5], "nice": false, "zero": false},
 "axis": {"values": [10, 15, 20, 25, 30, 35, 40, 45, 50, 55, 60, 65, 70],
  "title": "°C", "titleFont": "DejaVu Sans Mono", "titleFontSize": 11.5, "titleFontWeight": "normal", "titleColor": "black",
  "titleX": -54, "titleY": 124, "titleAlign": "center", "titleBaseline": "middle", "titleAngle": -90,
  "labelFont": "DejaVu Sans Mono", "labelFontSize": 11.5, "labelColor": "black", "labelPadding": 4,
  "tickSize": 3, "tickColor": "#404040", "domainColor": "#404040",
  "grid": true, "gridColor": "#F0AAAA", "gridOpacity": 1}}
}
},
{
"transform": [{"filter": "datum.s === 'AT>5°C, FS AUS'"}],
"mark": {"type": "line", "strokeWidth": 2, "clip": true},
"encoding": {
"x": {"field": "t", "type": "temporal",
 "axis": {"orient": "top", "labels": false, "ticks": false, "domain": false, "grid": false,
  "title": "Temperaturverlauf Heizung am: 03.11.2013", "titleFont": "DejaVu Sans Mono", "titleFontSize": 13.2, "titleFontWeight": "normal", "titleColor": "black",
  "titleX": 23, "titleY": -12, "titleAlign": "left", "titleBaseline": "alphabetic", "titleAngle": 0}},
"y": {"field": "v", "type": "quantitative",
 "axis": {"orient": "right", "labels": false, "ticks": false, "domain": false, "grid": false,
  "title": "RRDTOOL / TOBI OETIKER", "titleAngle": 90, "titleColor": "#BBBBBB", "titleFont": "DejaVu Sans Mono", "titleFontSize": 8.6, "titleFontWeight": "normal",
  "titleX": 20, "titleY": -26, "titleAlign": "left", "titleBaseline": "middle"}}
}
},
{
"transform": [{"filter": "datum.s === 'Heiz-P AUS'"}],
"mark": {"type": "line", "strokeWidth": 2, "clip": true},
"encoding": {
"x": {"field": "t", "type": "temporal",
 "axis": {"title": null, "values": [{"year": 2013, "month": 11, "date": 3, "hours": 0}, {"year": 2013, "month": 11, "date": 3, "hours": 12}], "format": "%a %H:%M",
  "labelFont": "DejaVu Sans Mono", "labelFontSize": 11.5, "labelColor": "black", "labelPadding": 2, "labelFlush": false,
  "tickSize": 3, "tickColor": "#404040", "domain": false,
  "grid": true, "gridColor": "#F0AAAA", "gridOpacity": 1}},
"y": {"field": "v", "type": "quantitative", "axis": null}
}
},
{
"transform": [{"filter": "datum.s === 'Heiz-P EIN'"}],
"mark": {"type": "line", "strokeWidth": 2, "clip": true},
"encoding": {
"x": {"field": "t", "type": "temporal",
 "axis": {"title": null, "values": [{"year": 2013, "month": 11, "date": 3, "hours": 6}, {"year": 2013, "month": 11, "date": 3, "hours": 18}],
  "labels": false, "ticks": false, "domain": false,
  "grid": true, "gridColor": "#F0AAAA", "gridOpacity": 1}},
"y": {"field": "v", "type": "quantitative", "axis": null}
}
}
],
"resolve": {"axis": {"x": "independent", "y": "independent"}}
}
